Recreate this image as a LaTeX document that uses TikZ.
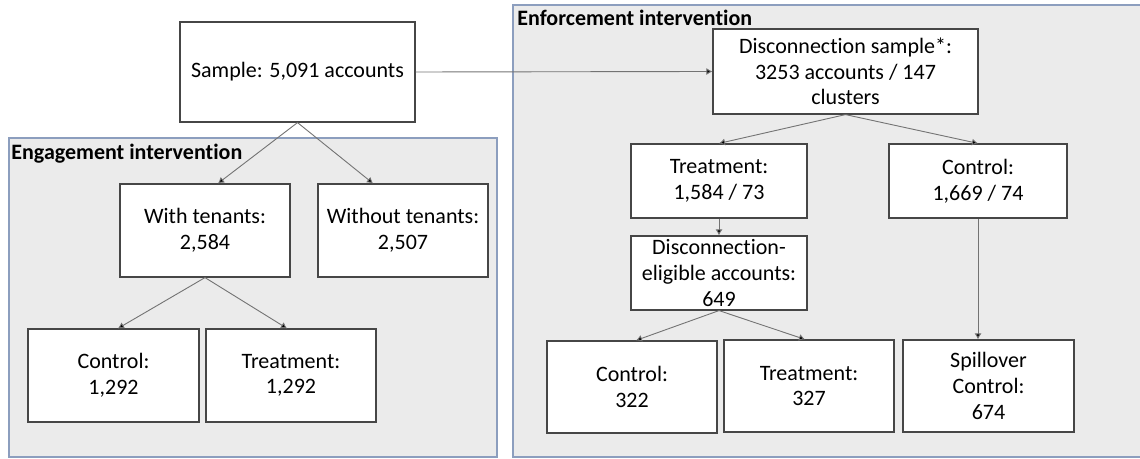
\documentclass[tikz,border=0pt]{standalone}
\usepackage{fontspec}
\setmainfont{Carlito}[Ligatures={NoCommon,TeX}]
\usetikzlibrary{arrows.meta}

\definecolor{panelfill}{RGB}{235,235,235}
\definecolor{paneledge}{RGB}{140,158,190}
\definecolor{boxedge}{RGB}{70,70,70}
\definecolor{linkgray}{RGB}{115,115,115}

\tikzset{
  grp/.style={draw=boxedge,line width=0.6pt,fill=white,align=center,inner sep=0pt,
    font=\fontsize{11}{12.8}\selectfont},
  link/.style={draw=linkgray,line width=0.45pt,-{Latex[length=3pt,width=3.5pt,fill=black]}},
  paneltitle/.style={anchor=west,inner sep=0pt,font=\fontsize{11}{12.8}\selectfont\bfseries}
}

\begin{document}
\begin{tikzpicture}[x=0.5pt,y=-0.5pt]
  \useasboundingbox (0,0) rectangle (1140,459);
  % the two intervention panels
  \filldraw[fill=panelfill,draw=paneledge,line width=0.6pt] (9,138) rectangle (497,457);
  \filldraw[fill=panelfill,draw=paneledge,line width=0.6pt] (513,5) rectangle (1150,457);
  \node[paneltitle] (engtitle) at (11,154) {Engagement intervention};
  \node[paneltitle] (enftitle) at (517,18) {Enforcement intervention};

  % engagement side
  \node[grp,minimum width=117.5pt,minimum height=50pt] (sample) at (297.5,72) {Sample: 5,091 accounts};
  \node[grp,minimum width=85pt,minimum height=46.5pt] (with) at (205,230.5) {With tenants:\\2,584};
  \node[grp,minimum width=85pt,minimum height=46.5pt] (without) at (403,230.5) {Without tenants:\\2,507};
  \node[grp,minimum width=85.5pt,minimum height=46.5pt] (engctrl) at (113.5,375.5) {Control:\\1,292};
  \node[grp,minimum width=85pt,minimum height=46.5pt] (engtreat) at (291,375.5) {Treatment:\\1,292};

  % enforcement side
  \node[grp,minimum width=132.5pt,minimum height=42.5pt] (disc) at (845.5,71.5) {Disconnection sample*:\\3253 accounts / 147\\clusters};
  \node[grp,minimum width=88pt,minimum height=37pt] (enftreat) at (719,181) {Treatment:\\1,584 / 73};
  \node[grp,minimum width=89pt,minimum height=37pt] (enfctrl) at (978,181) {Control:\\1,669 / 74};
  \node[grp,minimum width=88pt,minimum height=37pt] (elig) at (719,273) {Disconnection-\\eligible accounts:\\649};
  \node[grp,minimum width=85pt,minimum height=46pt] (eligctrl) at (632,387) {Control:\\322};
  \node[grp,minimum width=85pt,minimum height=46pt] (eligtreat) at (809,386) {Treatment:\\327};
  \node[grp,minimum width=85.5pt,minimum height=46pt] (spill) at (988.5,386) {Spillover\\Control:\\674};

  \draw[link] (sample.south) -- ([xshift=6.5pt]with.north);
  \draw[link] (sample.south) -- ([xshift=-15pt]without.north);
  \draw[link] (with.south) -- ([xshift=2.25pt]engctrl.north);
  \draw[link] (with.south) -- ([xshift=-2pt]engtreat.north);
  \draw[link] (sample.east) -- (disc.west);
  \draw[link] (disc.south) -- (enftreat.north);
  \draw[link] (disc.south) -- (enfctrl.north);
  \draw[link] (enftreat.south) -- (elig.north);
  \draw[link] (elig.south) -- ([xshift=2pt]eligctrl.north);
  \draw[link] (elig.south) -- ([xshift=-2pt]eligtreat.north);
  \draw[link] (enfctrl.south) -- (enfctrl.south |- spill.north);
\end{tikzpicture}
\end{document}
